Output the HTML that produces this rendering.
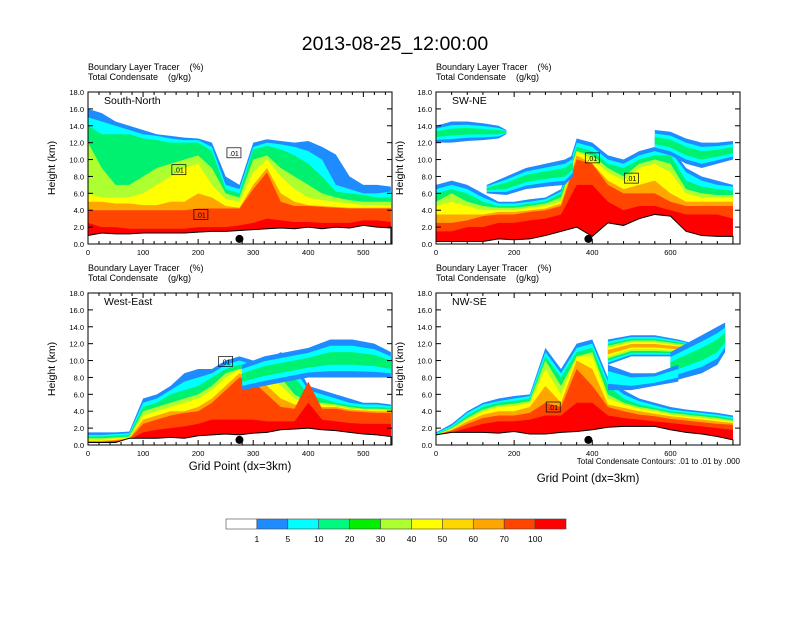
<!DOCTYPE html>
<html><head><meta charset="utf-8"><style>
body{margin:0;background:#fff;}
svg text{font-family:"Liberation Sans",Arial,sans-serif;fill:#000;white-space:pre;}
</style></head><body>
<svg id="fig" width="792" height="612" viewBox="0 0 792 612" xmlns="http://www.w3.org/2000/svg">
<rect width="792" height="612" fill="#fff"/>
<text x="395" y="50" font-size="19.5" text-anchor="middle">2013-08-25_12:00:00</text>
<g id="panels"></g>
<g id="colorbar"></g>
<text x="240" y="470" font-size="11.5" text-anchor="middle">Grid Point (dx=3km)</text>
<text x="588" y="482" font-size="11.5" text-anchor="middle">Grid Point (dx=3km)</text>
<text x="740" y="464" font-size="8" text-anchor="end">Total Condensate Contours: .01 to .01 by .000</text>
</svg>
<script>
// ---------- data ----------
const levelColors = ["#1E8CFF","#00FFFF","#00F070","#ADFF2F","#FFFF00","#FFA500","#FF4500","#FF0000"];
const colorbarColors = ["#FFFFFF","#1E8CFF","#00FFFF","#00FA80","#00F000","#ADFF2F","#FFFF00","#FFD700","#FFA500","#FF4500","#FF0000"];
const colorbarLabels = ["1","5","10","20","30","40","50","60","70","100"];
const yTickLabels = ["0.0","2.0","4.0","6.0","8.0","10.0","12.0","14.0","16.0","18.0"];

// Panel 1: South-North (x step 25)
const snX = [0,25,50,75,100,125,150,175,200,225,250,275,300,325,350,375,400,425,450,475,500,525,550];
const snTerrain = [1.0,1.3,1.2,1.2,1.3,1.3,1.3,1.3,1.4,1.5,1.5,1.6,1.7,1.8,1.9,1.8,2.0,1.8,2.0,1.9,2.2,2.0,1.9];
const snLevels = [
 [16,15.5,14.5,14,13.5,13,12.8,12.6,12.5,12,8,7,12,12.4,12.2,12,12.2,11.5,10.6,8,7,7,6.8],
 [15,14.5,14,13.5,13,12.8,12.5,12.3,12.3,11.5,7,6.5,11.5,12,11.8,11.5,11,10,7,6.5,6,6,6.2],
 [14,13,13,13,12.5,12.3,12,12,12,11,6.5,6,11.2,11.6,11.2,10.5,9.5,8,6.2,6,5.8,5.5,5.5],
 [12,9,7,7,8,9,9.5,10,10.5,9,6,5.5,10,10.5,9,8,7,6,5.5,5.2,5,5,5],
 [6,5.5,5.5,5.5,6,7,8,9,9.5,7,5.3,5,8.5,10,8,6.5,5.5,5.2,5,4.8,4.6,4.6,4.6],
 [5,5,4.8,4.8,4.6,4.6,5,5,6,5.5,4.5,4.3,7,9,6,5,4.6,4.5,4.4,4.3,4.3,4.3,4.3],
 [4,4,4,4,4,4,4,4,4.2,4.2,4.2,4.2,6.5,8.5,5,4.5,4.5,4.4,4.3,4.2,4.2,4.2,4.2],
 [2.5,2,2,1.8,1.8,1.8,1.8,1.8,2,2,2,2.2,2.5,3,2.8,2.6,2.6,2.5,2.5,2.5,2.8,2.8,2.6]
];

// Panel 2: SW-NE (x step 40)
const sneX = [0,40,80,120,160,200,240,280,320,360,400,440,480,520,560,600,640,680,720,760];
const sneTerrain = [0.3,0.3,0.3,0.3,0.6,0.5,0.6,1.0,1.5,2.0,0.9,2.5,2.2,3.0,3.5,3.3,1.5,1.0,0.9,0.9];
const sneLevels = [
 [7,7.5,7,6,5,5,5.3,5.5,6.5,12.5,12,10.5,10,11,11.5,11.5,9,8,7.5,7],
 [6.5,7,6.5,5.5,4.8,4.8,5,5.3,6.2,12,11.5,10,9.5,10.5,11,11,8.5,7.5,7,6.8],
 [6,6.5,6,5,4.5,4.5,4.8,5,6,11.5,11,9.5,9,10,10.5,10.5,7.5,6.8,6.5,6.3],
 [5,6,5,4.5,4.3,4.3,4.5,4.8,5.5,11,10.5,9,8,9.5,10,9.5,6.5,6,5.8,5.8],
 [4.5,5,4.5,4,4,4,4.3,4.5,5,11,10,8.5,7.5,9,9.5,8.5,6,5.5,5.5,5.5],
 [3.5,3.5,3.5,3.5,3.8,3.8,4,4.2,4.8,10.5,9.5,7.5,6.5,7,7.5,6,5,5,5,5],
 [2.5,2.5,2.8,3.3,3.5,3.5,3.8,4,4.5,10,9.5,7,6,6,6,5,4.5,4.5,4.5,4.5],
 [1.5,1.5,2,2,2.5,2.5,2.8,3,3.5,7,7,5,4,4.5,4.5,4,3.5,3.5,3.5,3]
];
const sneAnvil1X = [0,40,80,120,160,180];
const sneAnvil1Bot = [12,12,12.2,12.3,12.5,13];
const sneAnvil1Top = [14,14.5,14.5,14.3,14,13.5];
const sneAnvil2X = [130,180,230,280,330,350];
const sneAnvil2Bot = [6,5.8,6.5,6.8,7,8];
const sneAnvil2Top = [7,8,9,9.5,10,10.5];
const sneAnvil3X = [560,600,640,680,720,760];
const sneAnvil3Bot = [11,10.5,9.5,9,9.5,10];
const sneAnvil3Top = [13.5,13.3,12.5,12,12,12.2];

// Panel 3: West-East (x step 25)
const weX = snX;
const weTerrain = [0.3,0.3,0.3,0.8,0.8,0.8,0.9,0.8,1.1,1.2,1.3,1.2,1.4,1.5,1.8,1.9,2.0,1.8,1.7,1.5,1.3,1.2,1.0];
const weLevels = [
 [1.5,1.5,1.5,1.6,5.5,6,7,8.5,9,9,10,10.5,10,10,11,10,7,6.5,6,5.5,5,5,4.8],
 [1.2,1.2,1.3,1.4,5,5.5,6.5,7.5,8,8.5,9.5,10,9.5,9.5,10.5,9,6.5,6,5.5,5,4.8,4.8,4.6],
 [1,1,1.1,1.2,4.5,5,6,6.5,7,8,9,9.5,9.5,9.5,10,8,6,5.5,5,4.7,4.5,4.5,4.4],
 [0.8,0.8,0.9,1,4,4.5,5,5.5,6,7,8.5,9,9,9,8,6,5,5,4.8,4.5,4.3,4.3,4.2],
 [0.6,0.6,0.8,0.9,3.5,4,4.5,5,5.5,6.5,8,9,9,8.5,7,5.5,4.8,4.8,4.6,4.3,4.2,4.2,4.1],
 [0.5,0.5,0.6,0.8,3,3.5,4,4,4.5,5.5,7,8.5,8,7,5.5,4.8,4.5,4.5,4.5,4.2,4.1,4,4],
 [0.4,0.4,0.5,0.7,2.5,3,3.5,3.8,4,5,6.5,8,7.5,6,4.5,4.3,7.5,4.3,4.3,4,3.9,3.8,3.8],
 [0.35,0.35,0.45,0.6,1.5,1.8,2,2.2,2.5,3,3,3,3,2.8,2.8,2.8,5,3,2.8,2.6,2.5,2.5,2.5]
];
const weAnvil1X = [280,320,360,400,440,480,520,550];
const weAnvil1Bot = [6.5,7,7.5,8,8,8,8,8];
const weAnvil1Top = [9.5,10.5,11,11.5,12.5,12.5,12,11];

// Panel 4: NW-SE (x step 40)
const nwX = sneX;
const nwTerrain = [1.2,1.5,1.5,1.5,1.4,1.6,1.3,1.3,1.5,1.6,1.8,2.1,2.2,2.2,2.2,1.8,1.5,1.3,1.0,0.6];
const nwLevels = [
 [1.5,2.5,4,5,5.5,5.8,6,11.5,9,12,12.5,8,6.5,5.5,5,4.5,4.2,4,3.8,3.5],
 [1.4,2.3,3.8,4.8,5.2,5.5,5.8,11,8.5,11.5,12,7.5,6,5.2,4.7,4.2,4,3.8,3.6,3.3],
 [1.3,2.1,3.5,4.5,5,5.2,5.5,10.5,8,11,11.5,7,5.5,4.8,4.4,4,3.8,3.6,3.4,3.1],
 [1.2,2,3.2,4.2,4.7,4.9,5.2,10,7,10.5,11,6,5,4.5,4.2,3.8,3.6,3.4,3.2,2.9],
 [1.2,1.9,3,4,4.5,4.6,5,9,6,10.5,10.5,5.5,4.8,4.3,4,3.6,3.4,3.2,3,2.8],
 [1.2,1.8,2.8,3.6,4,4,4.5,7,5,10,9,4.8,4.4,4,3.7,3.4,3.2,3,2.8,2.6],
 [1.2,1.7,2.5,3.2,3.5,3.5,3.8,5,4.5,9,7,4.5,4,3.6,3.4,3.1,2.9,2.7,2.5,2.4],
 [1.2,1.5,2,2.5,2.8,2.8,3,3.5,3.5,5,5,3.5,3.2,3,2.8,2.6,2.4,2.2,2,1.8]
];
const nwAnvil1X = [440,500,560,620,660];
const nwAnvil1Bot = [9.5,10.5,10.5,10.5,11];
const nwAnvil1Top = [12.5,13,13,12.5,12];
const nwAnvil2X = [600,640,680,720,740];
const nwAnvil2Bot = [7.5,8,8.5,9.5,11];
const nwAnvil2Top = [11,12,13,14,14.5];
const nwAnvil3X = [440,500,560,620];
const nwAnvil3Bot = [6.5,6.5,7,7.5];
const nwAnvil3Top = [9.5,8.5,8.5,9.5];

// ---------- drawing ----------
const NS = "http://www.w3.org/2000/svg";
const root = document.getElementById('panels');
function mk(tag, attrs, parent){const e=document.createElementNS(NS,tag);for(const k in attrs)e.setAttribute(k,attrs[k]);(parent||root).appendChild(e);return e;}

const panels = [
 {name:"south-north",label:"South-North",x0:88,y0:92,xmax:552,xticks:[0,100,200,300,400,500],minor:20,X:snX,T:snTerrain,L:snLevels,anvils:[],dot:275,boxes:[[165,8.8],[205,3.5],[265,10.8]]},
 {name:"sw-ne",label:"SW-NE",x0:436,y0:92,xmax:778,xticks:[0,200,400,600],minor:40,X:sneX,T:sneTerrain,L:sneLevels,
  anvils:[[sneAnvil1X,sneAnvil1Bot,sneAnvil1Top,2],[sneAnvil2X,sneAnvil2Bot,sneAnvil2Top,2],[sneAnvil3X,sneAnvil3Bot,sneAnvil3Top,2]],dot:390,boxes:[[400,10.2],[500,7.8]]},
 {name:"west-east",label:"West-East",x0:88,y0:293,xmax:552,xticks:[0,100,200,300,400,500],minor:20,X:weX,T:weTerrain,L:weLevels,
  anvils:[[weAnvil1X,weAnvil1Bot,weAnvil1Top,2]],dot:275,boxes:[[250,9.9]]},
 {name:"nw-se",label:"NW-SE",x0:436,y0:293,xmax:778,xticks:[0,200,400,600],minor:40,X:nwX,T:nwTerrain,L:nwLevels,
  anvils:[[nwAnvil1X,nwAnvil1Bot,nwAnvil1Top,5],[nwAnvil2X,nwAnvil2Bot,nwAnvil2Top,2],[nwAnvil3X,nwAnvil3Bot,nwAnvil3Top,1]],dot:390,boxes:[[300,4.5]]}
];
const W=304,H=152,YMAX=18;

panels.forEach((p,pi)=>{
  const g=mk('g',{});
  
  
  const sx=v=>p.x0+v/p.xmax*W, sy=v=>p.y0+H-v/YMAX*H;
  const cid='clip'+pi;
  const cp=mk('clipPath',{id:cid},g); mk('rect',{x:p.x0,y:p.y0,width:W,height:H},cp);
  const plot=mk('g',{'clip-path':'url(#'+cid+')'},g);
  p.L.forEach((top,li)=>{
    let d='M'+sx(p.X[0])+','+sy(0);
    p.X.forEach((x,i)=>{d+=' L'+sx(x)+','+sy(top[i]);});
    d+=' L'+sx(p.X[p.X.length-1])+','+sy(0)+' Z';
    const e=mk('path',{d:d,fill:levelColors[li]},plot);
    
    
  });
  p.anvils.forEach((a,ai)=>{
    const [AX,AB,AT,maxL]=a;
    for(let li=0;li<=maxL;li++){
      const f=li/(maxL+1)*0.5;
      let d='';
      AX.forEach((x,i)=>{const b=AB[i]+(AT[i]-AB[i])*f;d+=(i?' L':'M')+sx(x)+','+sy(b);});
      for(let i=AX.length-1;i>=0;i--){const t=AT[i]-(AT[i]-AB[i])*f;d+=' L'+sx(AX[i])+','+sy(t);}
      const e=mk('path',{d:d+' Z',fill:levelColors[li],'stroke-linejoin':'round'},plot);
      
      
    }
  });
  let td='M'+sx(p.X[0])+','+sy(0);
  p.X.forEach((x,i)=>{td+=' L'+sx(x)+','+sy(p.T[i]);});
  td+=' L'+sx(p.X[p.X.length-1])+','+sy(0)+' Z';
  const te=mk('path',{d:td,fill:'#fff',stroke:'#000','stroke-width':1},plot);
  
  
  p.boxes.forEach(b=>{
    const r=mk('rect',{x:sx(b[0])-7,y:sy(b[1])-5,width:14,height:10,fill:'none',stroke:'#000','stroke-width':0.7},plot);
    
    
    const t=mk('text',{x:sx(b[0]),y:sy(b[1])+3,'font-size':7,'text-anchor':'middle'},plot);t.textContent='.01';
    
    
  });
  const dot=mk('circle',{cx:sx(p.dot),cy:sy(0.6),r:4,fill:'#000'},plot);
  
  
  mk('rect',{x:p.x0,y:p.y0,width:W,height:H,fill:'none',stroke:'#000','stroke-width':1},g);
  yTickLabels.forEach((lab,i)=>{
    const v=i*2, y=sy(v);
    mk('line',{x1:p.x0,x2:p.x0+5,y1:y,y2:y,stroke:'#000'},g);
    mk('line',{x1:p.x0+W,x2:p.x0+W-5,y1:y,y2:y,stroke:'#000'},g);
    const t=mk('text',{x:p.x0-4,y:y+3,'font-size':7.5,'text-anchor':'end'},g);t.textContent=lab;
    
    
  });
  for(let v=0;v<=p.xmax;v+=p.minor){
    const major=p.xticks.indexOf(v)>=0, x=sx(v), L=major?5:3;
    mk('line',{x1:x,x2:x,y1:p.y0+H,y2:p.y0+H-L,stroke:'#000'},g);
    mk('line',{x1:x,x2:x,y1:p.y0,y2:p.y0+L,stroke:'#000'},g);
  }
  p.xticks.forEach(v=>{
    const t=mk('text',{x:sx(v),y:p.y0+H+11,'font-size':7.5,'text-anchor':'middle'},g);t.textContent=v;
    
    
  });
  const lab=mk('text',{x:p.x0+16,y:p.y0+12,'font-size':10.5},g);lab.textContent=p.label;
  
  
  const s1=mk('text',{x:p.x0,y:p.y0-22,'font-size':9},g);s1.textContent='Boundary Layer Tracer    (%)';
  
  
  const s2=mk('text',{x:p.x0,y:p.y0-12,'font-size':9},g);s2.textContent='Total Condensate    (g/kg)';
  
  
  const yt=mk('text',{x:0,y:0,'font-size':10.5,'text-anchor':'middle',transform:'translate('+(p.x0-33)+','+(p.y0+H/2)+') rotate(-90)'},g);
  yt.textContent='Height (km)';
  
  
});

const cb=document.getElementById('colorbar');
const cbx=226, cby=519, cbw=340/11, cbh=10;
colorbarColors.forEach((c,i)=>{
  const r=mk('rect',{x:cbx+i*cbw,y:cby,width:cbw,height:cbh,fill:c,stroke:'#444','stroke-width':0.6},cb);
  
  
});
colorbarLabels.forEach((l,i)=>{
  const t=mk('text',{x:cbx+(i+1)*cbw,y:cby+23,'font-size':8.5,'text-anchor':'middle'},cb);t.textContent=l;
  
  
});
</script>
</body></html>
